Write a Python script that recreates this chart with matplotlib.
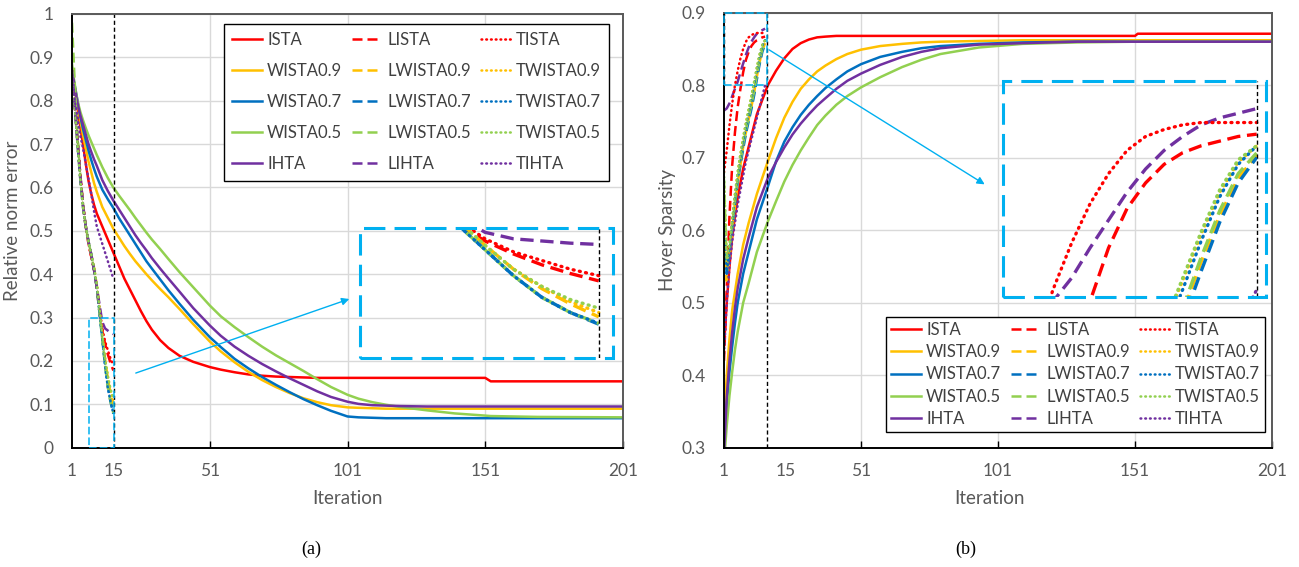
import numpy as np
import matplotlib

matplotlib.use("Agg")
import matplotlib.pyplot as plt
from matplotlib.patches import Rectangle

plt.rcParams["font.family"] = ["Lato", "DejaVu Sans"]

# ---------------- data ----------------
NAMES_BASE = ["ISTA", "WISTA0.9", "WISTA0.7", "WISTA0.5", "IHTA"]
NAMES_L = ["LISTA", "LWISTA0.9", "LWISTA0.7", "LWISTA0.5", "LIHTA"]
NAMES_T = ["TISTA", "TWISTA0.9", "TWISTA0.7", "TWISTA0.5", "TIHTA"]
COLORS = ["#FF0000", "#FFC000", "#0070C0", "#92D050", "#7030A0"]

# (a) relative norm error, classic algorithms
ITER_A = [1, 2, 3, 4, 5, 6, 7, 8, 9, 10, 12, 14, 16, 18, 20, 22, 24, 26, 28, 30, 33, 36, 40, 45,
          51, 55, 60, 65, 70, 75, 80, 85, 90, 95, 101, 105, 110, 115, 120, 130, 140, 151, 153,
          170, 201]
ERR_ISTA = [.87, .83, .785, .74, .70, .655, .615, .585, .56, .54, .51, .48, .45, .42, .39,
            .365, .34, .315, .292, .272, .248, .23, .212, .198, .186, .18, .174, .169, .166, .164,
            .163, .162, .161, .161, .161, .161, .161, .161, .161, .161, .161, .161, .153, .153, .153]
ERR_WISTA09 = [.87, .83, .795, .755, .72, .69, .66, .635, .61, .59, .555, .53, .505, .485, .465,
               .447, .43, .415, .40, .386, .366, .347, .32, .285, .245, .222, .197, .175, .156, .14,
               .126, .114, .105, .098, .093, .092, .091, .09, .09, .09, .09, .09, .09, .09, .09]
ERR_WISTA07 = [.87, .835, .80, .765, .735, .71, .685, .663, .643, .625, .595, .573, .553, .53, .51,
               .49, .47, .45, .43, .413, .388, .363, .332, .295, .255, .232, .205, .183, .163, .145,
               .128, .112, .098, .085, .072, .07, .069, .068, .068, .068, .068, .068, .068, .068, .068]
ERR_WISTA05 = [.885, .835, .80, .775, .755, .737, .72, .705, .69, .675, .647, .622, .60, .582, .565,
               .548, .53, .513, .496, .48, .458, .435, .405, .37, .328, .303, .278, .255, .233, .213,
               .195, .177, .158, .14, .122, .113, .105, .099, .094, .086, .079, .074, .073, .071, .07]
ERR_IHTA = [.87, .83, .795, .767, .745, .722, .70, .682, .665, .65, .617, .592, .57, .55, .53,
            .51, .49, .472, .455, .437, .413, .39, .36, .322, .282, .258, .233, .212, .193, .176,
            .16, .145, .13, .117, .106, .101, .098, .097, .096, .095, .095, .095, .095, .095, .095]

# (a) learned / trained algorithms, first 16 iterations
ITER_SHORT = list(range(1, 17))
ERR_LISTA = [.87, .79, .71, .63, .56, .51, .47, .44, .41, .37, .31, .27, .24, .215, .195, .178]
ERR_LWISTA09 = [.87, .79, .70, .62, .555, .51, .475, .445, .415, .375, .32, .26, .205, .16, .125, .095]
ERR_LWISTA07 = [.87, .79, .70, .62, .555, .51, .475, .445, .41, .37, .31, .25, .19, .14, .105, .078]
ERR_LWISTA05 = [.98, .84, .72, .63, .56, .51, .475, .445, .41, .37, .31, .25, .19, .14, .105, .08]
ERR_LIHTA = [.87, .79, .71, .63, .56, .51, .475, .445, .41, .37, .33, .29, .275, .27, .265, .262]
ERR_TISTA = [.87, .79, .71, .63, .56, .51, .47, .44, .41, .37, .32, .275, .245, .225, .205, .19]
ERR_TWISTA09 = [.87, .79, .70, .62, .555, .51, .475, .445, .415, .375, .32, .26, .205, .165, .13, .105]
ERR_TWISTA07 = [.87, .79, .70, .62, .555, .51, .475, .445, .41, .37, .31, .25, .19, .14, .105, .08]
ERR_TWISTA05 = [.87, .79, .70, .62, .555, .51, .475, .445, .415, .375, .32, .26, .205, .165, .135, .115]
ERR_TIHTA = [.87, .80, .76, .72, .69, .655, .62, .585, .545, .51, .49, .47, .45, .43, .41, .39]

# (b) Hoyer sparsity, classic algorithms
ITER_B = [1, 2, 3, 4, 5, 6, 8, 10, 13, 17, 20, 23, 26, 29, 32, 35, 38, 42, 46, 51, 58, 66, 73,
          80, 94, 110, 130, 151, 152, 201]
HOY_ISTA = [.44, .50, .55, .59, .62, .645, .685, .715, .76, .80, .82, .837, .85, .858, .863,
            .866, .867, .868, .868, .868, .868, .868, .868, .868, .868, .868, .868, .868, .871, .871]
HOY_WISTA09 = [.33, .40, .45, .49, .515, .54, .58, .61, .65, .695, .727, .755, .777, .795, .808,
               .819, .827, .836, .843, .849, .854, .857, .859, .86, .861, .862, .862, .862, .862, .862]
HOY_WISTA07 = [.29, .36, .405, .44, .472, .50, .54, .57, .615, .66, .695, .722, .742, .759, .773,
               .785, .796, .808, .819, .829, .839, .846, .851, .854, .857, .859, .86, .86, .86, .86]
HOY_WISTA05 = [.28, .33, .372, .405, .435, .46, .50, .527, .57, .612, .64, .667, .69, .71, .728,
               .745, .758, .773, .785, .797, .811, .825, .835, .843, .852, .857, .859, .86, .86, .86]
HOY_IHTA = [.29, .37, .42, .46, .493, .52, .56, .59, .632, .672, .694, .714, .732, .747, .76,
            .772, .782, .795, .806, .816, .828, .839, .846, .851, .856, .858, .86, .86, .86, .86]

# (b) learned / trained algorithms, first 16 iterations
HOY_LISTA = [.42, .52, .62, .69, .735, .77, .795, .818, .835, .846, .854, .859, .862, .864, .866, .867]
HOY_LWISTA09 = [.58, .53, .56, .60, .635, .665, .69, .715, .735, .753, .77, .79, .812, .832, .848, .858]
HOY_LWISTA07 = [.61, .54, .565, .60, .635, .665, .69, .712, .733, .75, .767, .786, .808, .829, .846, .857]
HOY_LWISTA05 = [.67, .55, .57, .605, .64, .67, .695, .718, .738, .756, .773, .792, .814, .834, .85, .859]
HOY_LIHTA = [.765, .768, .775, .785, .795, .805, .818, .83, .842, .852, .86, .866, .871, .874, .876, .878]
HOY_TISTA = [.68, .71, .745, .775, .80, .82, .837, .85, .86, .866, .869, .871, .872, .872, .872, .872]
HOY_TWISTA09 = [.66, .55, .58, .615, .65, .68, .705, .728, .748, .766, .784, .804, .824, .842, .855, .862]
HOY_TWISTA07 = [.62, .54, .575, .61, .645, .675, .70, .722, .743, .762, .78, .80, .821, .84, .854, .862]
HOY_TWISTA05 = [.68, .56, .58, .615, .65, .68, .705, .728, .748, .767, .785, .805, .825, .843, .856, .862]
HOY_TIHTA = [.43, .50, .55, .585, .61, .635, .655, .675, .695, .71, .725, .74, .755, .77, .785, .80]

ERR_BASE = [ERR_ISTA, ERR_WISTA09, ERR_WISTA07, ERR_WISTA05, ERR_IHTA]
ERR_L = [ERR_LISTA, ERR_LWISTA09, ERR_LWISTA07, ERR_LWISTA05, ERR_LIHTA]
ERR_T = [ERR_TISTA, ERR_TWISTA09, ERR_TWISTA07, ERR_TWISTA05, ERR_TIHTA]
HOY_BASE = [HOY_ISTA, HOY_WISTA09, HOY_WISTA07, HOY_WISTA05, HOY_IHTA]
HOY_L = [HOY_LISTA, HOY_LWISTA09, HOY_LWISTA07, HOY_LWISTA05, HOY_LIHTA]
HOY_T = [HOY_TISTA, HOY_TWISTA09, HOY_TWISTA07, HOY_TWISTA05, HOY_TIHTA]

# ---------------- styling ----------------
CYAN = "#00B0F0"
GREY_TXT = "#595959"
DASH = (0, (4, 2))
DOT = (0, (0.3, 1.6))   # round-capped dots


def draw_series(ax, it_long, base, short_l, short_t, lw, label=True):
    for name, c, y in zip(NAMES_BASE, COLORS, base):
        ax.plot(it_long, y, color=c, lw=lw, label=name if label else None)
    for name, c, y in zip(NAMES_L, COLORS, short_l):
        ax.plot(ITER_SHORT, y, color=c, lw=lw, ls=DASH, label=name if label else None)
    for name, c, y in zip(NAMES_T, COLORS, short_t):
        ax.plot(ITER_SHORT, y, color=c, lw=lw, ls=DOT, dash_capstyle="round",
                label=name if label else None)


def style_axes(ax, xticks, xlabels, yticks, ylabels):
    ax.set_axisbelow(True)
    ax.set_xticks(xticks, xlabels)
    ax.set_yticks(yticks, ylabels)
    ax.tick_params(axis="x", direction="in", length=5, width=1, pad=11,
                   labelsize=12.5, labelcolor=GREY_TXT, color="black")
    ax.tick_params(axis="y", length=0, pad=13, labelsize=12.5, labelcolor=GREY_TXT)
    ax.grid(True, color="#D9D9D9", lw=1)
    for i in (0, 1):
        t = ax.xaxis.get_major_ticks()[i]
        t.gridline.set_visible(False)
        t.tick1line.set_visible(False)
    for s in ("left", "bottom"):
        ax.spines[s].set_color("black")
        ax.spines[s].set_linewidth(1.4)
    for s in ("top", "right"):
        ax.spines[s].set_color("#595959")
        ax.spines[s].set_linewidth(1.4)


def add_legend(ax, loc, anchor, labelspacing, borderpad):
    leg = ax.legend(ncol=3, loc=loc, bbox_to_anchor=anchor, fontsize=12,
                    frameon=True, fancybox=False, edgecolor="black", framealpha=1,
                    handlelength=1.8, handletextpad=0.3, columnspacing=0.6,
                    labelspacing=labelspacing, borderpad=borderpad, borderaxespad=0)
    leg.get_frame().set_linewidth(1.0)
    for t in leg.get_texts():
        t.set_color("#404040")
    return leg


def make_inset(ax, bounds, xlim, ylim, base_it, base, short_l, short_t, vline_x):
    axin = ax.inset_axes(bounds)
    axin.set_facecolor("none")
    axin.set_xticks([])
    axin.set_yticks([])
    for s in axin.spines.values():
        s.set_visible(False)
    draw_series(axin, base_it, base, short_l, short_t, lw=2.4, label=False)
    axin.axvline(vline_x, color="black", lw=1, ls=(0, (3, 2)))
    axin.set_xlim(*xlim)
    axin.set_ylim(*ylim)
    axin.add_patch(Rectangle((0, 0), 1, 1, transform=axin.transAxes, fill=False,
                             ec=CYAN, lw=2.2, ls=(0, (7, 3)), clip_on=False, zorder=5))
    return axin


fig = plt.figure(figsize=(12.99, 5.67), dpi=100)

# ---------------- (a) ----------------
ax1 = fig.add_axes([72 / 1299, (567 - 447.7) / 567, 551 / 1299, 433.7 / 567])
draw_series(ax1, ITER_A, ERR_BASE, ERR_L, ERR_T, lw=1.8)
ax1.set_xlim(1, 201)
ax1.set_ylim(0, 1)
yt = np.round(np.arange(0, 1.01, 0.1), 1)
style_axes(ax1, [1, 16, 51, 101, 151, 201], ["1", "15", "51", "101", "151", "201"],
           yt, ["0"] + [f"{v:.1f}" for v in yt[1:-1]] + ["1"])
ax1.axvline(16.4, color="black", lw=1, ls=(0, (3, 2)))
ax1.add_patch(Rectangle((7.2, 0), 16.4 - 7.2, 0.3, fill=False, ec=CYAN, lw=1.1,
                        ls=(0, (5, 2)), zorder=4))
ax1.set_xlabel("Iteration", fontsize=13.5, color=GREY_TXT)
ax1.xaxis.set_label_coords(0.5, -0.098)
ax1.set_ylabel("Relative norm error", fontsize=13.5, color=GREY_TXT)
ax1.yaxis.set_label_coords(-0.093, 0.523)
add_legend(ax1, "upper right", (0.975, 0.977), 0.9, 0.5)
make_inset(ax1, [0.5227, 0.2068, 0.459, 0.2998], (7.6, 16.5), (0, 0.3),
           ITER_A, ERR_BASE, ERR_L, ERR_T, 16)
ax1.annotate("", xy=(0.508, 0.345), xytext=(0.111, 0.170), xycoords="axes fraction",
             arrowprops=dict(arrowstyle="-|>", color=CYAN, lw=1, mutation_scale=11))

# ---------------- (b) ----------------
ax2 = fig.add_axes([724 / 1299, (567 - 447.7) / 567, 548 / 1299, 435 / 567])
draw_series(ax2, ITER_B, HOY_BASE, HOY_L, HOY_T, lw=1.8)
ax2.set_xlim(1, 201)
ax2.set_ylim(0.3, 0.9)
yt2 = np.round(np.arange(0.3, 0.91, 0.1), 1)
style_axes(ax2, [1, 23.5, 51, 101, 151, 201], ["1", "15", "51", "101", "151", "201"],
           yt2, [f"{v:.1f}" for v in yt2])
ax2.axvline(16.6, color="black", lw=1, ls=(0, (3, 2)))
ax2.plot([1, 1], [0.8, 0.9], color="black", lw=1, ls=(0, (3, 2)), zorder=4)
ax2.add_patch(Rectangle((1, 0.8), 15.6, 0.1, fill=False, ec=CYAN, lw=1.1,
                        ls=(0, (5, 2)), zorder=4, clip_on=False))
ax2.set_xlabel("Iteration", fontsize=13.5, color=GREY_TXT)
ax2.xaxis.set_label_coords(0.485, -0.098)
ax2.set_ylabel("Hoyer Sparsity", fontsize=13.5, color=GREY_TXT)
ax2.yaxis.set_label_coords(-0.088, 0.5)
add_legend(ax2, "lower right", (0.987, 0.036), 0.38, 0.3)
make_inset(ax2, [0.509, 0.347, 0.48, 0.4966], (2.3, 16.5), (0.797, 0.89),
           ITER_B, HOY_BASE, HOY_L, HOY_T, 16)
ax2.annotate("", xy=(0.48, 0.602), xytext=(0.078, 0.918), xycoords="axes fraction",
             arrowprops=dict(arrowstyle="-|>", color=CYAN, lw=1, mutation_scale=11))

fig.text(311 / 1299, 1 - 549 / 567, "(a)", ha="center", va="center",
         family="Liberation Serif", fontsize=13)
fig.text(966 / 1299, 1 - 549 / 567, "(b)", ha="center", va="center",
         family="Liberation Serif", fontsize=13)

fig.savefig("out.png", dpi=100)
